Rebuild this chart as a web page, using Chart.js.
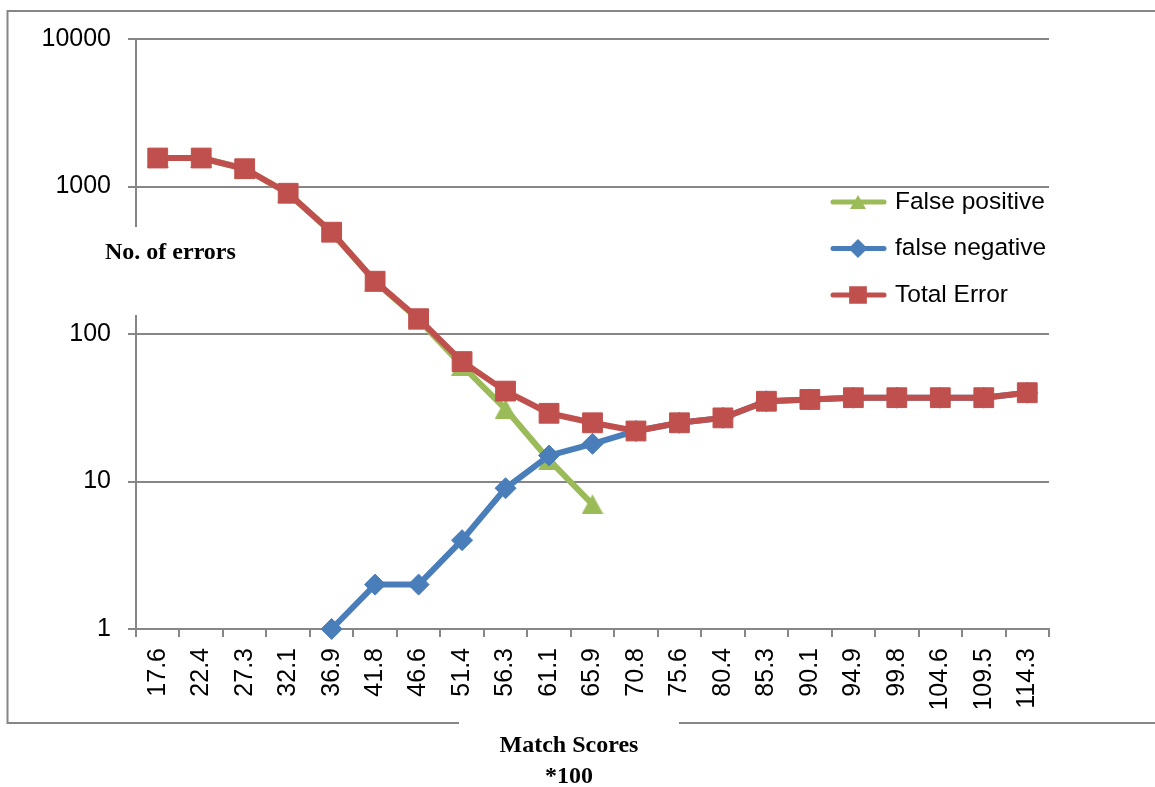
<!DOCTYPE html>
<html>
<head>
<meta charset="utf-8">
<style>
    html, body { margin: 0; padding: 0; background: #fff; }
    canvas { display: block; }
</style>
<script src="https://cdn.jsdelivr.net/npm/chart.js@4.4.1/dist/chart.umd.min.js"></script>
</head>
<body>
<canvas id="grafico" width="1155" height="787"></canvas>
<script>
//////////////////////////////////////////////////////////////////////////////////////
/// DATOS //////////////////////////////////////////////////////////////////////////
//////////////////////////////////////////////////////////////////////////////////////
const etiquetas = ["17.6", "22.4", "27.3", "32.1", "36.9", "41.8", "46.6", "51.4", "56.3", "61.1", "65.9",
                   "70.8", "75.6", "80.4", "85.3", "90.1", "94.9", "99.8", "104.6", "109.5", "114.3"];

const falsosPositivos = [1560, 1560, 1320, 900, 489, 226, 125, 61, 31, 14, 7,
                         null, null, null, null, null, null, null, null, null, null];

const falsosNegativos = [null, null, null, null, 1, 2, 2, 4, 9, 15, 18,
                         22, 25, 27, 35, 36, 37, 37, 37, 37, 40];

const errorTotal = [1560, 1560, 1320, 900, 490, 228, 127, 65, 41, 29, 25,
                    22, 25, 27, 35, 36, 37, 37, 37, 37, 40];

const ticksY = [1, 10, 100, 1000, 10000];

const nombresSeries = ["False positive", "false negative", "Total Error"];
const tituloY = "No. of errors";
const tituloX = ["Match Scores", "*100"];

//////////////////////////////////////////////////////////////////////////////////////
/// ESTILOS ////////////////////////////////////////////////////////////////////////
//////////////////////////////////////////////////////////////////////////////////////
const GRIS = "#868686";
const VERDE = "#9BBB59";
const AZUL = "#4A7EBB";
const ROJO = "#C0504D";

Chart.defaults.font.family = "'Liberation Sans', Arial, sans-serif";
Chart.defaults.color = "#000";

// triangulo centrado por su caja (como el marcador de Excel)
function CrearTriangulo(ancho, alto, color) {
    const c = document.createElement("canvas");
    c.width = ancho;
    c.height = alto;
    const g = c.getContext("2d");
    g.fillStyle = color;
    g.beginPath();
    g.moveTo(ancho / 2, 0);
    g.lineTo(ancho, alto);
    g.lineTo(0, alto);
    g.closePath();
    g.fill();
    return c;
}

const trianguloGrafico = CrearTriangulo(22, 20, VERDE);
const trianguloLeyenda = CrearTriangulo(16, 14, VERDE);

function Serie(label, data, color, estilo, radio, orden) {
    return {
        label: label,
        data: data,
        borderColor: color,
        backgroundColor: color,
        borderWidth: 6,
        borderJoinStyle: "round",
        borderCapStyle: "round",
        tension: 0,
        pointStyle: estilo,
        pointRadius: radio,
        pointHoverRadius: radio,
        pointBackgroundColor: color,
        pointBorderColor: color,
        pointBorderWidth: 1,
        clip: false,
        order: orden
    };
}

//////////////////////////////////////////////////////////////////////////////////////
/// PLUGIN: MARCO, TITULOS Y LEYENDA ///////////////////////////////////////////////
//////////////////////////////////////////////////////////////////////////////////////
const pluginDecoracion = {
    id: "decoracion",
    beforeDraw(chart) {
        const ctx = chart.ctx;
        ctx.save();
        ctx.fillStyle = "#fff";
        ctx.fillRect(0, 0, chart.width, chart.height);
        ctx.strokeStyle = GRIS;
        ctx.lineWidth = 2;
        ctx.beginPath();
        ctx.moveTo(chart.width, 11);
        ctx.lineTo(7.5, 11);
        ctx.lineTo(7.5, 723);
        ctx.lineTo(459, 723);
        ctx.moveTo(679, 723);
        ctx.lineTo(chart.width, 723);
        ctx.stroke();
        ctx.restore();
    },
    afterDraw(chart) {
        const ctx = chart.ctx;
        ctx.save();

        // titulo eje Y (tapa el eje)
        ctx.fillStyle = "#fff";
        ctx.fillRect(100, 227, 142, 88);
        ctx.fillStyle = "#000";
        ctx.font = "bold 24px 'Liberation Serif', 'Times New Roman', serif";
        ctx.textBaseline = "middle";
        ctx.textAlign = "left";
        ctx.fillText(tituloY, 105, 253);

        // titulo eje X
        ctx.textAlign = "center";
        ctx.fillText(tituloX[0], 569, 746);
        ctx.fillText(tituloX[1], 569, 777);

        // leyenda
        const estilosLeyenda = [trianguloLeyenda, "rectRot", "rect"];
        const radiosLeyenda = [8, 6, 9];
        chart.data.datasets.forEach((ds, i) => {
            const y = 202 + i * 46.5;
            ctx.strokeStyle = ds.borderColor;
            ctx.lineWidth = 5;
            ctx.lineCap = "round";
            ctx.beginPath();
            ctx.moveTo(833, y);
            ctx.lineTo(884, y);
            ctx.stroke();
            ctx.fillStyle = ds.borderColor;
            Chart.helpers.drawPoint(ctx, {
                pointStyle: estilosLeyenda[i],
                radius: radiosLeyenda[i],
                rotation: 0,
                borderWidth: 1
            }, 858, y);
            ctx.fillStyle = "#000";
            ctx.font = "24.5px 'Liberation Sans', Arial, sans-serif";
            ctx.textAlign = "left";
            ctx.textBaseline = "middle";
            ctx.fillText(ds.label, 895, y);
        });

        ctx.restore();
    }
};

//////////////////////////////////////////////////////////////////////////////////////
/// GRAFICO ////////////////////////////////////////////////////////////////////////
//////////////////////////////////////////////////////////////////////////////////////
new Chart(document.getElementById("grafico").getContext("2d"), {
    type: "line",
    data: {
        labels: etiquetas,
        datasets: [
            Serie(nombresSeries[0], falsosPositivos, VERDE, trianguloGrafico, 11, 3),
            Serie(nombresSeries[1], falsosNegativos, AZUL, "rectRot", 10.5, 2),
            Serie(nombresSeries[2], errorTotal, ROJO, "rect", 14, 1)
        ]
    },
    options: {
        responsive: false,
        animation: false,
        layout: { padding: { left: 0, top: 39, right: 106, bottom: 0 } },
        plugins: {
            legend: { display: false },
            tooltip: { enabled: false }
        },
        scales: {
            x: {
                offset: true,
                afterFit: s => { s.height = 158; },
                grid: { offset: true, drawOnChartArea: false, drawTicks: true, tickLength: 8, color: GRIS, lineWidth: 2 },
                border: { color: GRIS, width: 2 },
                ticks: { autoSkip: false, maxRotation: 90, minRotation: 90, padding: 11, font: { size: 25 }, color: "#000" }
            },
            y: {
                type: "logarithmic",
                min: 1,
                max: 10000,
                afterBuildTicks: s => { s.ticks = ticksY.map(v => ({ value: v })); },
                afterFit: s => { s.width = 136; },
                grid: { color: GRIS, lineWidth: 2, drawTicks: true, tickLength: 8 },
                border: { color: GRIS, width: 2 },
                ticks: { callback: v => String(v), padding: 17, font: { size: 25 }, color: "#000" }
            }
        }
    },
    plugins: [pluginDecoracion]
});
</script>
</body>
</html>
